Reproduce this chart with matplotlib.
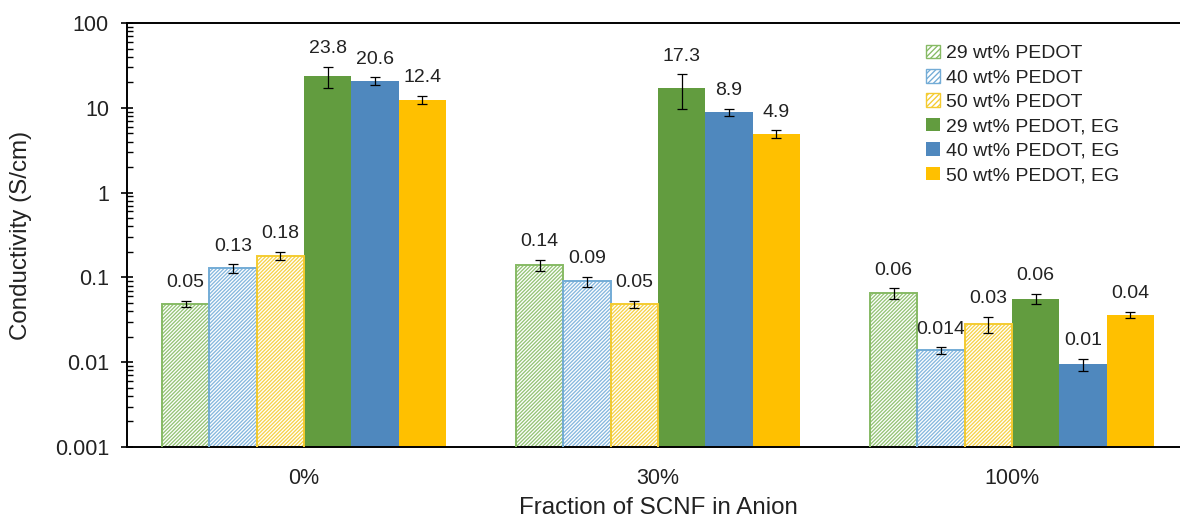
import matplotlib.pyplot as plt
import numpy as np
from matplotlib.patches import Patch
from matplotlib.ticker import FixedLocator, FixedFormatter, LogLocator, NullFormatter

plt.rcParams['font.family'] = ['Liberation Sans', 'DejaVu Sans']
plt.rcParams['hatch.linewidth'] = 0.95

# data
groups = ['0%', '30%', '100%']
series = ['29 wt% PEDOT', '40 wt% PEDOT', '50 wt% PEDOT',
          '29 wt% PEDOT, EG', '40 wt% PEDOT, EG', '50 wt% PEDOT, EG']
values = [
    [0.049, 0.14, 0.065],
    [0.128, 0.09, 0.0137],
    [0.18, 0.048, 0.028],
    [23.8, 17.3, 0.056],
    [20.6, 8.9, 0.0094],
    [12.4, 4.9, 0.036],
]
errors = [
    [0.004, 0.02, 0.009],
    [0.015, 0.012, 0.0013],
    [0.02, 0.005, 0.006],
    [6.5, 7.5, 0.008],
    [2.2, 0.8, 0.0015],
    [1.4, 0.5, 0.003],
]
labels = [
    ['0.05', '0.14', '0.06'],
    ['0.13', '0.09', '0.014'],
    ['0.18', '0.05', '0.03'],
    ['23.8', '17.3', '0.06'],
    ['20.6', '8.9', '0.01'],
    ['12.4', '4.9', '0.04'],
]

solid = ['#629c3f', '#4f88be', '#ffc000']
hatch_edge = ['#86ba64', '#73acd6', '#f4cb30']
hatch_line = ['#95c477', '#86b8de', '#f6d24a']

fig = plt.figure(figsize=(11.8, 5.19), dpi=100)
ax = fig.add_axes([0.1076, 0.1387, 0.9, 0.817])

x = np.arange(len(groups))
w = 0.1336
for i in range(6):
    pos = x + (i - 2.5) * w
    c = i % 3
    if i < 3:
        ax.bar(pos, values[i], w, bottom=0.0001, color='white', edgecolor=hatch_line[c],
               hatch='/////////', linewidth=0, zorder=2)
        ax.bar(pos, values[i], w, bottom=0.0001, fill=False, edgecolor=hatch_edge[c],
               linewidth=1.4, zorder=3)
    else:
        ax.bar(pos, values[i], w, bottom=0.0001, color=solid[c], linewidth=0, zorder=2)
    ax.errorbar(pos, values[i], yerr=errors[i], fmt='none', ecolor='black',
                elinewidth=0.9, capsize=3.6, capthick=0.9, zorder=4)
    for p, v, e, t in zip(pos, values[i], errors[i], labels[i]):
        ax.annotate(t, (p, v + e), xytext=(0, 7), textcoords='offset points',
                    ha='center', va='bottom', fontsize=14, color='#222222')

ax.set_yscale('log')
ax.set_ylim(0.001, 100)
ax.set_xlim(-0.5, 2.5)
ax.yaxis.set_major_locator(FixedLocator([0.001, 0.01, 0.1, 1, 10, 100]))
ax.yaxis.set_major_formatter(FixedFormatter(['0.001', '0.01', '0.1', '1', '10', '100']))
ax.yaxis.set_minor_locator(LogLocator(base=10, subs=np.arange(2, 10)))
ax.yaxis.set_minor_formatter(NullFormatter())
ax.tick_params(axis='y', which='major', direction='inout', length=9, width=1.2,
               labelsize=15.5, pad=8.5, labelcolor='#222222')
ax.tick_params(axis='y', which='minor', direction='in', length=4, width=1.0)
ax.set_xticks(x)
ax.set_xticklabels(groups)
ax.tick_params(axis='x', length=0, labelsize=15.5, pad=15, labelcolor='#222222')

for s in ['left', 'bottom', 'top']:
    ax.spines[s].set_linewidth(1.4)
    ax.spines[s].set_color('black')
ax.spines['right'].set_visible(False)

ax.set_ylabel('Conductivity (S/cm)', fontsize=17.4, color='#222222')
ax.set_xlabel('Fraction of SCNF in Anion', fontsize=17.4, color='#222222')
ax.yaxis.set_label_coords(-0.0895, 0.5)
ax.xaxis.set_label_coords(0.5, -0.118)

handles = []
for i in range(6):
    c = i % 3
    if i < 3:
        handles.append(Patch(facecolor='white', edgecolor=hatch_edge[c], hatch='//////',
                             linewidth=1.0, label=series[i]))
    else:
        handles.append(Patch(facecolor=solid[c], edgecolor='none', label=series[i]))
ax.legend(handles=handles, loc='upper left', bbox_to_anchor=(0.7784, 0.929),
          bbox_transform=fig.transFigure, frameon=False, fontsize=14,
          handlelength=0.7, handleheight=0.7, handletextpad=0.3, labelspacing=0.35,
          borderaxespad=0, labelcolor='#222222')

fig.savefig('out.png', dpi=100)
